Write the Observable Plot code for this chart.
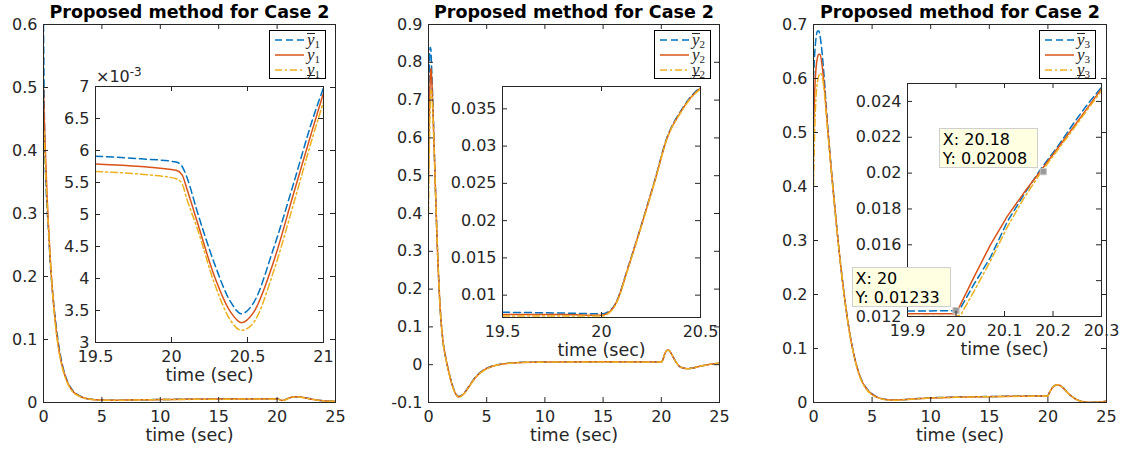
<!DOCTYPE html>
<html>
<head>
<meta charset="utf-8">
<script src="https://cdn.jsdelivr.net/npm/d3@7"></script>
<script src="https://cdn.jsdelivr.net/npm/@observablehq/plot@0.6"></script>
<style>
  body { margin: 0; background: #fff; }
  #root { position: relative; width: 1123px; height: 450px; overflow: hidden; background: #fff; font-family: "DejaVu Sans", sans-serif; }
  .legend { position: absolute; box-sizing: border-box; width: 57px; height: 49px; border: 1px solid #000; background: #fff; }
  .legend .lab { position: absolute; left: 37px; font-family: "Liberation Serif", serif; font-style: italic; font-size: 17px; line-height: 13px; height: 13px; color: #262626; white-space: nowrap; }
  .legend .lab sub { font-style: normal; font-size: 11px; vertical-align: -3px; line-height: 0; }
  .legend .ov { display: inline-block; line-height: 12px; border-top: 1px solid #262626; }
  .legend .un { display: inline-block; line-height: 11px; border-bottom: 1px solid #262626; }
  .expo { position: absolute; font-family: "DejaVu Sans", sans-serif; font-size: 16px; line-height: 18px; color: #262626; white-space: nowrap; }
  .expo sup { font-size: 12px; vertical-align: 6px; line-height: 0; }
  .tip { position: absolute; box-sizing: border-box; width: 99px; height: 40px; background: #FFFFE1; border: 1px solid #cfcfcf; font-family: "DejaVu Sans", sans-serif; font-size: 16px; line-height: 19px; padding: 1px 3px; color: #000; white-space: nowrap; }
</style>
</head>
<body>
<div id="root"></div>
<script>
// ---------------- DATA ----------------
const panelTitle = "Proposed method for Case 2";
const xLabel = "time (sec)";
const seriesKeys = ["upper", "nominal", "lower"];
const subscripts = ["1", "2", "3"];

const mainXTicks = [0, 5, 10, 15, 20, 25];

// Panel 1 (y1)
const p1YTicks = [0, 0.1, 0.2, 0.3, 0.4, 0.5, 0.6];
const p1EarlyT = [0, 0.05, 0.1, 0.2, 0.3, 0.4, 0.6, 0.8, 1.0, 1.25, 1.5, 2, 2.5, 3, 3.5, 4, 5, 6, 8, 10, 12, 15, 18];
const p1EarlyUpper = [0.6, 0.5, 0.42, 0.35, 0.31, 0.28, 0.215, 0.17, 0.135, 0.098, 0.07, 0.036, 0.019, 0.0115, 0.0073, 0.0054, 0.0039, 0.0036, 0.0043, 0.0048, 0.0051, 0.0055, 0.0058];
const p1EarlyNominal = [0.5, 0.46, 0.43, 0.38, 0.33, 0.29, 0.222, 0.17, 0.13, 0.092, 0.066, 0.034, 0.018, 0.011, 0.007, 0.0052, 0.0038, 0.0035, 0.0042, 0.0047, 0.005, 0.0054, 0.0057];
const p1EarlyLower = [0.4, 0.43, 0.41, 0.36, 0.32, 0.285, 0.222, 0.168, 0.127, 0.09, 0.064, 0.033, 0.017, 0.0105, 0.0068, 0.005, 0.0037, 0.0034, 0.0041, 0.0046, 0.0049, 0.0052, 0.0055];
const p1ZoomT = [19.5, 19.8, 20.03, 20.07, 20.1, 20.17, 20.28, 20.39, 20.46, 20.54, 20.67, 20.8, 20.93, 21];
const p1ZoomUpper = [0.00591, 0.00587, 0.00582, 0.00575, 0.00559, 0.00504, 0.00425, 0.00363, 0.00345, 0.00362, 0.00446, 0.00546, 0.0065, 0.00698];
const p1ZoomNominal = [0.00579, 0.00575, 0.00569, 0.00562, 0.00541, 0.00488, 0.00405, 0.00347, 0.00331, 0.00347, 0.00425, 0.0053, 0.00635, 0.0069];
const p1ZoomLower = [0.00567, 0.00563, 0.00556, 0.00548, 0.00525, 0.00478, 0.00394, 0.00334, 0.00319, 0.00331, 0.0041, 0.00514, 0.00622, 0.00676];
const p1LateT = [21.3, 21.6, 22, 22.5, 23, 23.5, 24, 24.5, 25];
const p1LateUpper = [0.0088, 0.0093, 0.0088, 0.0072, 0.0052, 0.0037, 0.0027, 0.0022, 0.002];
const p1LateNominal = [0.0086, 0.0091, 0.0086, 0.007, 0.0051, 0.0036, 0.0026, 0.0021, 0.0019];
const p1LateLower = [0.0084, 0.0089, 0.0084, 0.0068, 0.005, 0.0035, 0.0025, 0.002, 0.0018];
const p1InsetXTicks = [19.5, 20, 20.5, 21];
const p1InsetYTicks = [0.003, 0.0035, 0.004, 0.0045, 0.005, 0.0055, 0.006, 0.0065, 0.007];
const p1InsetExponentBase = "×10";
const p1InsetExponentPower = "-3";

// Panel 2 (y2)
const p2YTicks = [-0.1, 0, 0.1, 0.2, 0.3, 0.4, 0.5, 0.6, 0.7, 0.8, 0.9];
const p2EarlyT = [0, 0.05, 0.1, 0.15, 0.2, 0.25, 0.3, 0.4, 0.5, 0.75, 1.0, 1.25, 1.5, 1.75, 2.0, 2.3, 2.6, 3.0, 3.5, 4, 4.5, 5, 5.5, 6, 7, 8, 10, 15];
const p2EarlyUpper = [0.6, 0.75, 0.82, 0.84, 0.835, 0.8, 0.76, 0.67, 0.565, 0.322, 0.151, 0.061, 0.016, -0.019, -0.049, -0.074, -0.084, -0.077, -0.056, -0.034, -0.019, -0.009, -0.0035, 0.0003, 0.0042, 0.0062, 0.0072, 0.0077];
const p2EarlyNominal = [0.5, 0.62, 0.7, 0.76, 0.785, 0.77, 0.74, 0.66, 0.56, 0.32, 0.15, 0.06, 0.015, -0.02, -0.05, -0.075, -0.085, -0.078, -0.057, -0.035, -0.02, -0.01, -0.004, 0.0, 0.004, 0.006, 0.007, 0.0075];
const p2EarlyLower = [0.4, 0.52, 0.62, 0.69, 0.725, 0.725, 0.71, 0.645, 0.555, 0.318, 0.149, 0.059, 0.014, -0.021, -0.051, -0.076, -0.086, -0.079, -0.058, -0.036, -0.021, -0.011, -0.0045, -0.0003, 0.0038, 0.0058, 0.0068, 0.0073];
const p2ZoomT = [19.5, 19.8, 20.0, 20.05, 20.08, 20.13, 20.2, 20.27, 20.33, 20.4, 20.45, 20.5];
const p2ZoomUpper = [0.0077, 0.0076, 0.0075, 0.0081, 0.0094, 0.0134, 0.0193, 0.0255, 0.0311, 0.0347, 0.0366, 0.0379];
const p2ZoomNominal = [0.0074, 0.0074, 0.0073, 0.008, 0.0093, 0.0133, 0.0192, 0.0254, 0.031, 0.0346, 0.0365, 0.0378];
const p2ZoomLower = [0.0072, 0.0072, 0.0072, 0.0079, 0.0092, 0.0132, 0.0191, 0.0253, 0.0309, 0.0345, 0.0364, 0.0377];
const p2LateT = [20.6, 20.7, 20.9, 21.2, 21.5, 21.9, 22.3, 22.8, 23.5, 24.2, 25];
const p2LateValues = [0.039, 0.037, 0.027, 0.01, -0.003, -0.009, -0.0105, -0.008, -0.003, 0.001, 0.004];
const p2InsetXTicks = [19.5, 20, 20.5];
const p2InsetYTicks = [0.01, 0.015, 0.02, 0.025, 0.03, 0.035];

// Panel 3 (y3)
const p3YTicks = [0, 0.1, 0.2, 0.3, 0.4, 0.5, 0.6, 0.7];
const p3EarlyT = [0, 0.1, 0.2, 0.35, 0.45, 0.55, 0.7, 0.9, 1.2, 1.5, 2.0, 2.5, 3.0, 3.5, 4.0, 4.5, 5.0, 5.5, 6.0, 6.6, 7.5, 9, 10, 12, 14, 16, 18];
const p3EarlyUpper = [0.6, 0.645, 0.672, 0.688, 0.688, 0.68, 0.655, 0.605, 0.515, 0.437, 0.321, 0.221, 0.141, 0.084, 0.047, 0.027, 0.016, 0.0095, 0.0064, 0.0048, 0.0052, 0.0074, 0.0087, 0.0099, 0.0108, 0.0114, 0.0119];
const p3EarlyNominal = [0.5, 0.575, 0.615, 0.64, 0.645, 0.645, 0.63, 0.59, 0.51, 0.435, 0.32, 0.22, 0.14, 0.083, 0.046, 0.026, 0.015, 0.009, 0.006, 0.0045, 0.005, 0.0072, 0.0085, 0.0097, 0.0106, 0.0112, 0.0117];
const p3EarlyLower = [0.4, 0.5, 0.56, 0.595, 0.605, 0.61, 0.607, 0.58, 0.505, 0.433, 0.319, 0.219, 0.139, 0.082, 0.045, 0.025, 0.014, 0.0085, 0.0057, 0.0043, 0.0048, 0.007, 0.0083, 0.0095, 0.0104, 0.011, 0.0115];
const p3ZoomT = [19.9, 20.0, 20.01, 20.037, 20.071, 20.106, 20.14, 20.174, 20.21, 20.243, 20.27, 20.3];
const p3ZoomUpper = [0.0123, 0.01233, 0.0125, 0.0138, 0.0153, 0.0173, 0.0188, 0.0202, 0.0215, 0.0228, 0.0238, 0.0248];
const p3ZoomNominal = [0.01215, 0.01215, 0.0127, 0.0142, 0.016, 0.0176, 0.0189, 0.0201, 0.0214, 0.0226, 0.0236, 0.0247];
const p3ZoomLower = [0.012, 0.012, 0.0121, 0.0134, 0.0151, 0.017, 0.0186, 0.02, 0.0213, 0.0225, 0.0235, 0.0246];
const p3LateT = [20.45, 20.6, 20.8, 21.0, 21.3, 21.6, 22.0, 22.4, 22.8, 23.2, 23.6, 24.0, 24.5, 25];
const p3LateValues = [0.029, 0.0315, 0.033, 0.032, 0.027, 0.02, 0.012, 0.006, 0.0025, 0.0008, 0.0002, 0.0003, 0.001, 0.0025];
const p3InsetXTicks = [19.9, 20, 20.1, 20.2, 20.3];
const p3InsetYTicks = [0.012, 0.014, 0.016, 0.018, 0.02, 0.022, 0.024];
const p3TipX = [20.18, 20];
const p3TipY = [0.02008, 0.01233];

// ---------------- STYLE ----------------
const COLORS = {upper: "#0072BD", nominal: "#D95319", lower: "#EDB120"};
const DASH = {upper: "7,4", nominal: undefined, lower: "7,3,2,3"};
const AX = "#262626";
const FS = 16;
const M = {l: 70, r: 30, t: 32, b: 45};
const root = document.getElementById("root");

function rows(ts, vs) { return ts.map((t, i) => ({t, v: vs[i]})); }
function fmt(d) { return String(d); }

function axesPlot({box, xDomain, yDomain, xTicks, yTicks, yFmt = fmt, series, curve = "monotone-x", title, extra = []}) {
  const W = box.r - box.l, H = box.b - box.t;
  const marks = [Plot.frame({fill: "#fff", stroke: "none"})];
  for (const s of series) {
    marks.push(Plot.line(s.rows, {x: "t", y: "v", stroke: COLORS[s.key], strokeWidth: 1.5, strokeDasharray: DASH[s.key], curve, clip: true}));
  }
  marks.push(...extra);
  marks.push(
    Plot.tickX(xTicks, {x: d => d, insetTop: H - 5, stroke: AX}),
    Plot.tickX(xTicks, {x: d => d, insetBottom: H - 5, stroke: AX}),
    Plot.tickY(yTicks, {y: d => d, insetRight: W - 5, stroke: AX}),
    Plot.tickY(yTicks, {y: d => d, insetLeft: W - 5, stroke: AX}),
    Plot.axisX({ticks: xTicks, tickSize: 0, tickPadding: 8, tickFormat: fmt, label: null, fontSize: FS, fill: AX}),
    Plot.axisY({ticks: yTicks, tickSize: 0, tickPadding: 6, tickFormat: yFmt, label: null, fontSize: FS, fill: AX}),
    Plot.frame({stroke: AX, strokeWidth: 1}),
    Plot.text([xLabel], {text: d => d, frameAnchor: "bottom", lineAnchor: "middle", dy: 33, fontSize: 17.5, fill: AX})
  );
  if (title) marks.push(Plot.text([title], {text: d => d, frameAnchor: "top", lineAnchor: "middle", dy: -12, fontSize: 17.5, fontWeight: "bold", fill: "#000"}));
  const svg = Plot.plot({
    width: W + M.l + M.r, height: H + M.t + M.b,
    marginLeft: M.l, marginRight: M.r, marginTop: M.t, marginBottom: M.b,
    x: {domain: xDomain}, y: {domain: yDomain},
    style: {background: "transparent", overflow: "visible", fontFamily: "DejaVu Sans", fontSize: FS + "px", color: AX},
    marks
  });
  svg.style.position = "absolute";
  svg.style.left = (box.l - M.l) + "px";
  svg.style.top = (box.t - M.t) + "px";
  root.appendChild(svg);
  return svg;
}

function legend(left, top, sub) {
  const div = document.createElement("div");
  div.className = "legend";
  div.style.left = left + "px";
  div.style.top = top + "px";
  const ys = [9, 23.5, 39];
  const cls = ["ov", "", "un"];
  seriesKeys.forEach((k, i) => {
    const ns = "http://www.w3.org/2000/svg";
    const s = document.createElementNS(ns, "svg");
    s.setAttribute("width", 29); s.setAttribute("height", 6);
    s.style.cssText = `position:absolute;left:5px;top:${ys[i] - 3}px;`;
    const ln = document.createElementNS(ns, "line");
    ln.setAttribute("x1", 0); ln.setAttribute("x2", 29); ln.setAttribute("y1", 3); ln.setAttribute("y2", 3);
    ln.setAttribute("stroke", COLORS[k]); ln.setAttribute("stroke-width", 1.5);
    if (DASH[k]) ln.setAttribute("stroke-dasharray", DASH[k]);
    s.appendChild(ln);
    div.appendChild(s);
    const lab = document.createElement("span");
    lab.className = "lab";
    lab.style.top = (ys[i] - 7) + "px";
    lab.innerHTML = `<span class="${cls[i]}">y</span><sub>${sub}</sub>`;
    div.appendChild(lab);
  });
  root.appendChild(div);
}

function mainSeries(eT, eU, eN, eL, zT, zU, zN, zL, lT, lU, lN, lL) {
  return [
    {key: "upper", rows: rows([...eT, ...zT, ...lT], [...eU, ...zU, ...lU])},
    {key: "nominal", rows: rows([...eT, ...zT, ...lT], [...eN, ...zN, ...lN])},
    {key: "lower", rows: rows([...eT, ...zT, ...lT], [...eL, ...zL, ...lL])}
  ];
}
function zoomSeries(zT, zU, zN, zL) {
  return [
    {key: "upper", rows: rows(zT, zU)},
    {key: "nominal", rows: rows(zT, zN)},
    {key: "lower", rows: rows(zT, zL)}
  ];
}

// ---------------- PANEL 1 ----------------
axesPlot({box: {l: 43, t: 24, r: 335, b: 402}, xDomain: [0, 25], yDomain: [0, 0.6], xTicks: mainXTicks, yTicks: p1YTicks, title: panelTitle,
  series: mainSeries(p1EarlyT, p1EarlyUpper, p1EarlyNominal, p1EarlyLower, p1ZoomT, p1ZoomUpper, p1ZoomNominal, p1ZoomLower, p1LateT, p1LateUpper, p1LateNominal, p1LateLower)});
const inset1Box = {l: 95, t: 86, r: 323, b: 342};
axesPlot({box: inset1Box, xDomain: [19.5, 21], yDomain: [0.003, 0.007], xTicks: p1InsetXTicks, yTicks: p1InsetYTicks,
  yFmt: d => String(+(d * 1000).toFixed(1)),
  series: zoomSeries(p1ZoomT, p1ZoomUpper, p1ZoomNominal, p1ZoomLower)});
const expo = document.createElement("div");
expo.className = "expo";
expo.style.left = (inset1Box.l + 1) + "px";
expo.style.top = (inset1Box.t - 18) + "px";
expo.innerHTML = `${p1InsetExponentBase}<sup>${p1InsetExponentPower}</sup>`;
root.appendChild(expo);
legend(269, 30, subscripts[0]);

// ---------------- PANEL 2 ----------------
axesPlot({box: {l: 428, t: 24, r: 719, b: 402}, xDomain: [0, 25], yDomain: [-0.1, 0.9], xTicks: mainXTicks, yTicks: p2YTicks, title: panelTitle,
  series: mainSeries(p2EarlyT, p2EarlyUpper, p2EarlyNominal, p2EarlyLower, p2ZoomT, p2ZoomUpper, p2ZoomNominal, p2ZoomLower, p2LateT, p2LateValues, p2LateValues, p2LateValues)});
axesPlot({box: {l: 502, t: 86, r: 700, b: 317}, xDomain: [19.5, 20.5], yDomain: [0.007, 0.038], xTicks: p2InsetXTicks, yTicks: p2InsetYTicks,
  series: zoomSeries(p2ZoomT, p2ZoomUpper, p2ZoomNominal, p2ZoomLower)});
legend(654, 30, subscripts[1]);

// ---------------- PANEL 3 ----------------
axesPlot({box: {l: 813, t: 24, r: 1106, b: 402}, xDomain: [0, 25], yDomain: [0, 0.7], xTicks: mainXTicks, yTicks: p3YTicks, title: panelTitle,
  series: mainSeries(p3EarlyT, p3EarlyUpper, p3EarlyNominal, p3EarlyLower, p3ZoomT, p3ZoomUpper, p3ZoomNominal, p3ZoomLower, p3LateT, p3LateValues, p3LateValues, p3LateValues)});
const tipRows = rows(p3TipX, p3TipY);
const inset3Box = {l: 907, t: 83, r: 1101, b: 316};
const inset3 = axesPlot({box: inset3Box, xDomain: [19.9, 20.3], yDomain: [0.012, 0.025], xTicks: p3InsetXTicks, yTicks: p3InsetYTicks, curve: "linear",
  series: zoomSeries(p3ZoomT, p3ZoomUpper, p3ZoomNominal, p3ZoomLower),
  extra: [Plot.dot(tipRows, {x: "t", y: "v", symbol: "square", r: 3.5, fill: "#999", stroke: "#c8c8c8", strokeWidth: 1})]});
legend(1039, 30, subscripts[2]);

// data tips
const sx = inset3.scale("x"), sy = inset3.scale("y");
tipRows.forEach(d => {
  const mx = inset3Box.l - M.l + sx.apply(d.t);
  const my = inset3Box.t - M.t + sy.apply(d.v);
  const tip = document.createElement("div");
  tip.className = "tip";
  tip.style.left = (mx - 5 - 99) + "px";
  tip.style.top = (my - 3 - 40) + "px";
  tip.innerHTML = `X: ${d.t}<br>Y: ${d.v}`;
  root.appendChild(tip);
});
</script>
</body>
</html>
